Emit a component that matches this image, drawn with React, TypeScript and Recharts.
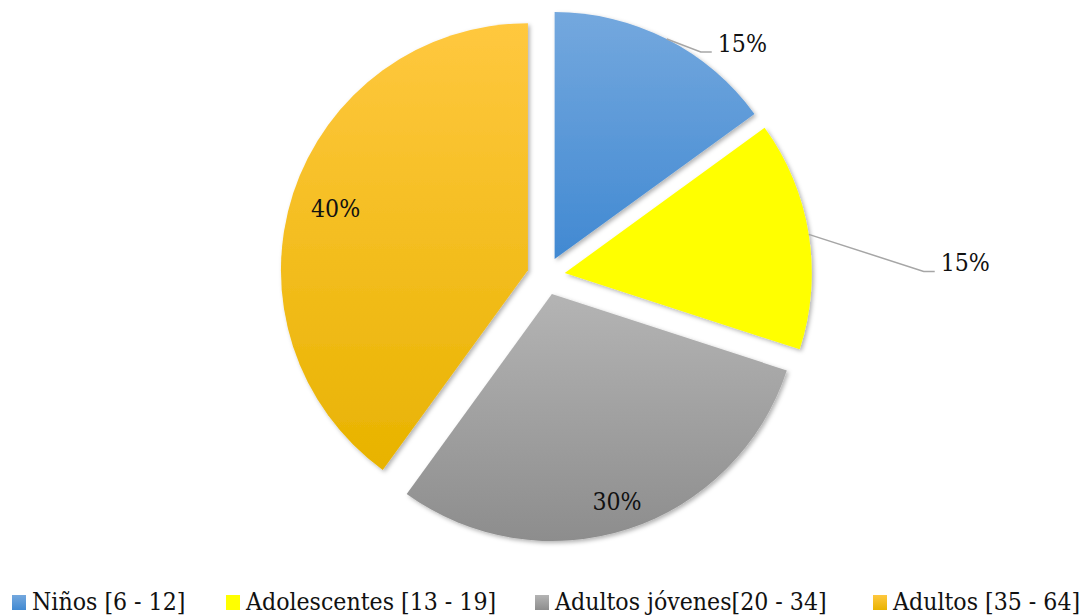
import { PieChart, Pie, Cell, Legend } from 'recharts'

const categories = ['Niños [6 - 12]', 'Adolescentes [13 - 19]', 'Adultos jóvenes[20 - 34]', 'Adultos [35 - 64]']
const shares = [15, 15, 30, 40]
const gradTop = ['#74a8de', '#ffff00', '#b4b4b4', '#ffc83f']
const gradBottom = ['#4189d2', '#ffff00', '#8d8d8d', '#e8b300']

const data = categories.map((name, i) => ({ name, value: shares[i] }))
const total = shares.reduce((a, b) => a + b, 0)

const W = 1084
const H = 616
const CX = 546
const CY = 276
const R = 247
const EXPLODE = 19
const RAD = Math.PI / 180
const FONT = 'DejaVu Serif'
const FONT_SIZE = 24.6
const legendLeft = [12, 226, 535, 873]

// mid angle of every slice, going clockwise from 12 o'clock
const midAngles = shares.map((v, i) => {
  const before = shares.slice(0, i).reduce((a, b) => a + b, 0)
  return 90 - ((before + v / 2) / total) * 360
})

const textStyle = { fontFamily: FONT, fontSize: FONT_SIZE, fontStretch: 'condensed' as const }

type LabelProps = {
  cx: number
  cy: number
  midAngle: number
  outerRadius: number
  index: number
  percent: number
}

const makeLabel = (slice: number) => (p: LabelProps) => {
  if (p.index !== slice) return null
  const txt = `${Math.round(p.percent * 100)}%`
  const cos = Math.cos(-p.midAngle * RAD)
  const sin = Math.sin(-p.midAngle * RAD)
  if (slice === 0 || slice === 1) {
    const sx = p.cx + p.outerRadius * cos
    const sy = p.cy + p.outerRadius * sin
    const elbow = slice === 0 ? [34, 13] : [115, 37]
    const ex = sx + elbow[0]
    const ey = sy + elbow[1]
    return (
      <g>
        <polyline
          points={`${sx},${sy} ${ex},${ey} ${ex + 11},${ey}`}
          fill="none"
          stroke="#a6a6a6"
          strokeWidth={1.5}
        />
        <text x={ex + 17} y={ey} textAnchor="start" fill="#111" style={textStyle}>
          {txt}
        </text>
      </g>
    )
  }
  const k = slice === 3 ? 0.81 : 0.88
  const x = p.cx + p.outerRadius * k * cos
  const y = p.cy + p.outerRadius * k * sin
  return (
    <text x={x - 2} y={y + 9} textAnchor="middle" fill="#111" style={textStyle}>
      {txt}
    </text>
  )
}

const LegendContent = () => (
  <div style={{ position: 'relative', width: W, height: 30, color: '#111', ...textStyle }}>
    {categories.map((c, i) => (
      <div
        key={c}
        style={{
          position: 'absolute',
          left: legendLeft[i],
          top: 0,
          display: 'flex',
          alignItems: 'center',
          whiteSpace: 'nowrap',
          lineHeight: '30px',
        }}
      >
        <span
          style={{
            display: 'inline-block',
            width: 14,
            height: 15,
            marginRight: 6,
            background: `linear-gradient(${gradTop[i]}, ${gradBottom[i]})`,
          }}
        />
        <span>{c}</span>
      </div>
    ))}
  </div>
)

export default function App() {
  return (
    <div style={{ position: 'absolute', left: 0, top: 0, width: W, height: H, background: '#fff' }}>
      <PieChart width={W} height={H} margin={{ top: 0, right: 0, bottom: 0, left: 0 }}>
        <defs>
          {categories.map((c, i) => (
            <linearGradient key={c} id={`g${i}`} x1="0" y1="0" x2="0" y2="1">
              <stop offset="0%" stopColor={gradTop[i]} />
              <stop offset="100%" stopColor={gradBottom[i]} />
            </linearGradient>
          ))}
          <filter id="shadow" x="-10%" y="-10%" width="120%" height="120%">
            <feDropShadow dx="2" dy="2" stdDeviation="2" floodColor="#000" floodOpacity="0.3" />
          </filter>
        </defs>
        {categories.map((c, k) => (
          <Pie
            key={c}
            data={data}
            dataKey="value"
            nameKey="name"
            cx={CX + EXPLODE * Math.cos(midAngles[k] * RAD)}
            cy={CY - EXPLODE * Math.sin(midAngles[k] * RAD)}
            outerRadius={R}
            startAngle={90}
            endAngle={-270}
            stroke="none"
            labelLine={false}
            label={makeLabel(k)}
            legendType="none"
            isAnimationActive={false}
          >
            {data.map((d, i) => (
              <Cell
                key={d.name}
                fill={i === k ? `url(#g${i})` : 'none'}
                filter={i === k ? 'url(#shadow)' : undefined}
              />
            ))}
          </Pie>
        ))}
        <Legend
          verticalAlign="bottom"
          content={<LegendContent />}
          wrapperStyle={{ left: 0, top: 587, width: W, height: 30 }}
        />
      </PieChart>
    </div>
  )
}
